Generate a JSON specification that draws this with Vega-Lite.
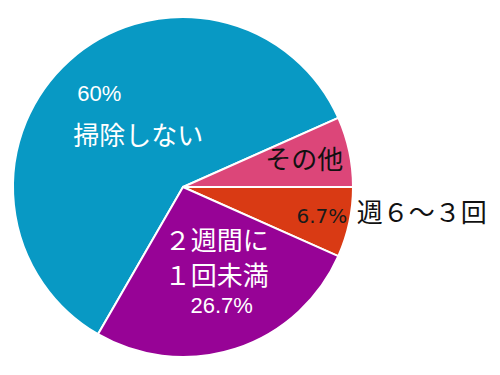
{
  "$schema": "https://vega.github.io/schema/vega-lite/v6.json",
  "width": 366,
  "height": 374,
  "autosize": {"type": "none"},
  "padding": {"left": 0, "top": 0, "right": 134, "bottom": 1},
  "background": "white",
  "config": {"view": {"stroke": null}},
  "data": {
    "values": [
      {"区分": "掃除しない", "人数": 9, "割合": "60%", "順": 1},
      {"区分": "その他", "人数": 1, "割合": "6.7%", "順": 2},
      {"区分": "週６～３回", "人数": 1, "割合": "6.7%", "順": 3},
      {"区分": "２週間に１回未満", "人数": 4, "割合": "26.7%", "順": 4}
    ]
  },
  "encoding": {
    "theta": {"field": "人数", "type": "quantitative", "stack": true, "scale": {"range": [3.6652, 9.9484]}},
    "order": {"field": "順", "type": "quantitative"}
  },
  "layer": [
    {
      "mark": {"type": "arc", "outerRadius": 170, "stroke": "white", "strokeWidth": 2},
      "encoding": {
        "color": {
          "field": "区分", "type": "nominal", "legend": null,
          "scale": {"domain": ["掃除しない", "その他", "週６～３回", "２週間に１回未満"], "range": ["#0899c4", "#dc4679", "#d93a14", "#970396"]}
        }
      }
    },
    {
      "mark": {"type": "text", "font": "Liberation Sans", "fontSize": 22, "fill": "white", "align": "center", "baseline": "middle"},
      "encoding": {
        "radius": {"value": 125},
        "text": {"condition": {"test": "datum['区分'] === '掃除しない' || datum['区分'] === '２週間に１回未満'", "field": "割合"}, "value": ""}
      }
    },
    {
      "mark": {"type": "text", "font": "DejaVu Sans", "fontSize": 20, "fill": "#1a1a1a", "align": "center", "baseline": "middle"},
      "encoding": {
        "radius": {"value": 142},
        "text": {"condition": {"test": "datum['区分'] === '週６～３回'", "field": "割合"}, "value": ""}
      }
    },
    {
      "mark": {"type": "text", "font": "Noto Sans CJK JP", "fontSize": 26, "fill": "white", "align": "center", "baseline": "middle"},
      "encoding": {
        "radius": {"value": 67},
        "text": {"condition": {"test": "datum['区分'] === '掃除しない'", "field": "区分"}, "value": ""}
      }
    },
    {
      "mark": {"type": "text", "font": "Noto Sans CJK JP", "fontSize": 26, "fill": "#111111", "align": "center", "baseline": "middle"},
      "encoding": {
        "radius": {"value": 124},
        "text": {"condition": {"test": "datum['区分'] === 'その他'", "field": "区分"}, "value": ""}
      }
    },
    {
      "mark": {"type": "text", "font": "Noto Sans CJK JP", "fontSize": 26, "fill": "#111111", "align": "center", "baseline": "middle", "dx": 4, "dy": -23},
      "encoding": {
        "radius": {"value": 240},
        "text": {"condition": {"test": "datum['区分'] === '週６～３回'", "field": "区分"}, "value": ""}
      }
    },
    {
      "mark": {"type": "text", "font": "Noto Sans CJK JP", "fontSize": 26, "fill": "white", "align": "center", "baseline": "middle", "lineHeight": 35, "dx": 9, "dy": -21},
      "encoding": {
        "radius": {"value": 80},
        "text": {"condition": {"test": "datum['区分'] === '２週間に１回未満'", "value": ["２週間に", "１回未満"]}, "value": ""}
      }
    }
  ]
}
